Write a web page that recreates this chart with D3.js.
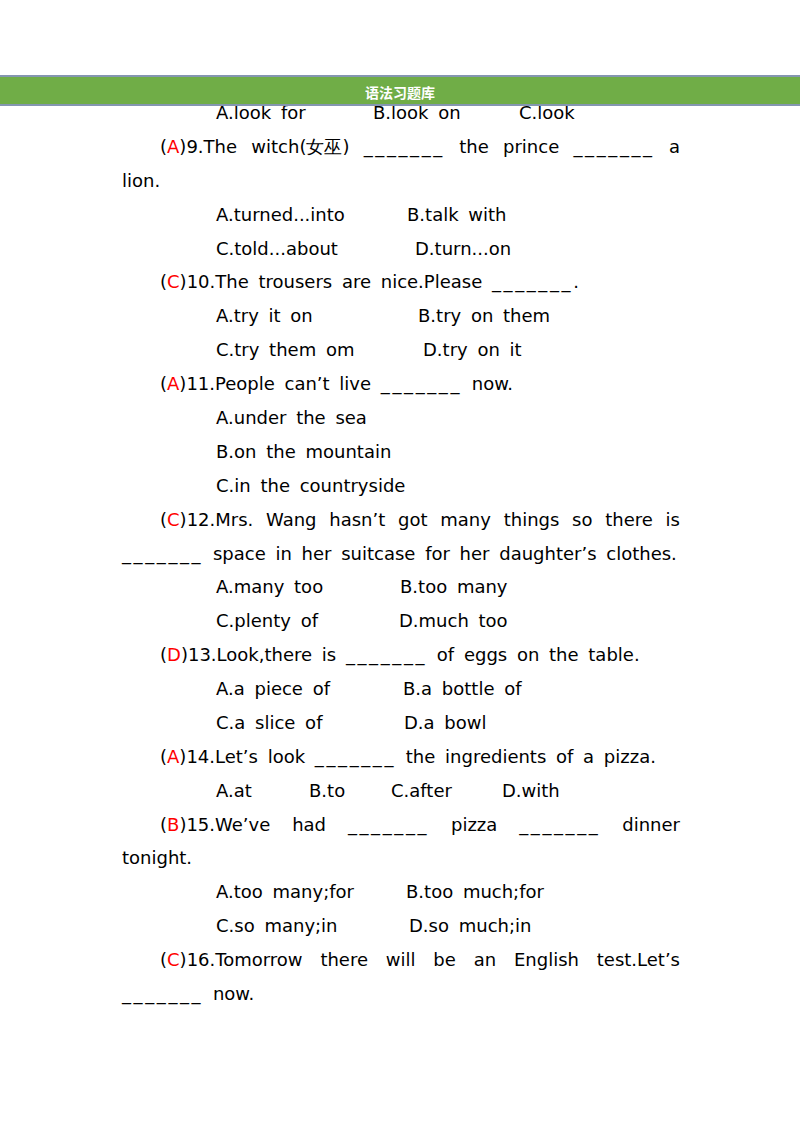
<!DOCTYPE html>
<html><head><meta charset="utf-8">
<script src="https://cdn.jsdelivr.net/npm/d3@7"></script>
<style>body{margin:0;background:#fff}svg{display:block}</style>
</head><body>
<div id="page"></div>
<script>
"use strict";

const HEADER = "语法习题库";

// each line: [indent column, text, justify-to-right-edge]
// answers are marked as {X}
const LINES = [
  ["opt", [["A.look for", 0], ["B.look on", 157], ["C.look", 303]]],
  ["q", "({A})9.The witch(女巫) _______ the prince _______ a", true],
  ["wrap", "lion."],
  ["opt", [["A.turned...into", 0], ["B.talk with", 191]]],
  ["opt", [["C.told...about", 0], ["D.turn...on", 199]]],
  ["q", "({C})10.The trousers are nice.Please _______."],
  ["opt", [["A.try it on", 0], ["B.try on them", 202]]],
  ["opt", [["C.try them om", 0], ["D.try on it", 207]]],
  ["q", "({A})11.People can’t live _______ now."],
  ["opt", [["A.under the sea", 0]]],
  ["opt", [["B.on the mountain", 0]]],
  ["opt", [["C.in the countryside", 0]]],
  ["q", "({C})12.Mrs. Wang hasn’t got many things so there is", true],
  ["wrap", "_______ space in her suitcase for her daughter’s clothes."],
  ["opt", [["A.many too", 0], ["B.too many", 184]]],
  ["opt", [["C.plenty of", 0], ["D.much too", 183]]],
  ["q", "({D})13.Look,there is _______ of eggs on the table."],
  ["opt", [["A.a piece of", 0], ["B.a bottle of", 187]]],
  ["opt", [["C.a slice of", 0], ["D.a bowl", 188]]],
  ["q", "({A})14.Let’s look _______ the ingredients of a pizza."],
  ["opt", [["A.at", 0], ["B.to", 93], ["C.after", 175], ["D.with", 286]]],
  ["q", "({B})15.We’ve had _______ pizza _______ dinner", true],
  ["wrap", "tonight."],
  ["opt", [["A.too many;for", 0], ["B.too much;for", 190]]],
  ["opt", [["C.so many;in", 0], ["D.so much;in", 193]]],
  ["q", "({C})16.Tomorrow there will be an English test.Let’s", true],
  ["wrap", "_______ now."]
];

const W = 800, H = 1132;
const svg = d3.select("#page").append("svg").attr("width", W).attr("height", H);

const xCol = { wrap: 122, q: 160, opt: 216 };
const rightEdge = 680;
const y = d3.scaleLinear().domain([0, LINES.length - 1]).range([119, 1000]);

const font = "'DejaVu Sans', sans-serif";
const g = svg.append("g").attr("font-family", font).attr("font-size", 18)
  .attr("fill", "#000").attr("word-spacing", 4);

function addRuns(t, str) {
  str.split(/(\{[A-D]\}|_{7})/).forEach((part) => {
    if (!part) return;
    const m = part.match(/^\{([A-D])\}$/);
    const s = t.append("tspan").attr("fill", m ? "#ff0000" : "#000").text(m ? m[1] : part);
    if (/^_+$/.test(part)) s.attr("letter-spacing", 2.6);
  });
}

LINES.forEach((ln, i) => {
  const [kind, content, justify] = ln;
  if (kind === "opt") {
    content.forEach(([t, dx]) => {
      g.append("text").attr("x", xCol.opt + dx).attr("y", y(i)).text(t);
    });
    return;
  }
  const t = g.append("text").attr("x", xCol[kind]).attr("y", y(i))
    .attr("xml:space", "preserve");
  addRuns(t, content);
  if (justify) {
    const spaces = (content.match(/ /g) || []).length;
    const natural = t.node().getComputedTextLength();
    const extra = (rightEdge - xCol[kind] - natural) / spaces;
    t.attr("word-spacing", 4 + extra);
  }
});

// header band (drawn last so it overlaps the cut-off first line)
svg.append("rect").attr("x", 0).attr("y", 75).attr("width", W).attr("height", 31)
  .attr("fill", "#8496b0");
svg.append("rect").attr("x", 0).attr("y", 77).attr("width", W).attr("height", 27)
  .attr("fill", "#70ad47");
svg.append("text").attr("x", 400).attr("y", 97.5).attr("text-anchor", "middle")
  .attr("font-family", "'Noto Sans CJK SC', sans-serif").attr("font-weight", 700)
  .attr("font-size", 14).attr("fill", "#fff").text(HEADER);
</script>
</body></html>
